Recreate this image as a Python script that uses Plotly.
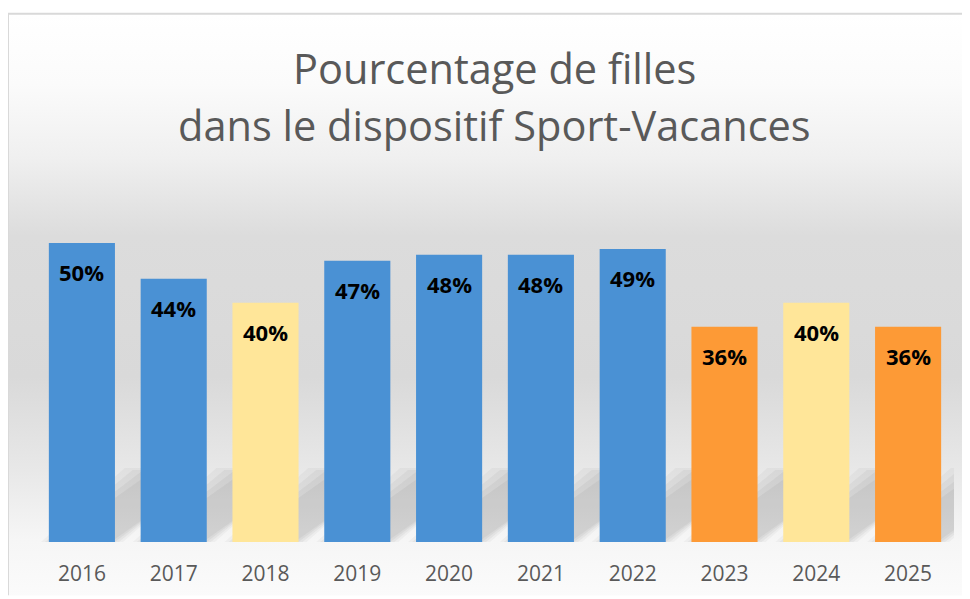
import base64
import plotly.graph_objects as go

# ---- data ----
years = ["2016", "2017", "2018", "2019", "2020", "2021", "2022", "2023", "2024", "2025"]
pct_girls = [50, 44, 40, 47, 48, 48, 49, 36, 40, 36]
bar_colors = ["#4a91d4", "#4a91d4", "#ffe699", "#4a91d4", "#4a91d4",
              "#4a91d4", "#4a91d4", "#fd9a36", "#ffe699", "#fd9a36"]
title_lines = ["Pourcentage de filles", "dans le dispositif Sport-Vacances"]

# page body adds an 8px margin, so the figure is 8px smaller than the window
W, H = 962, 591
ML, MR, MT, MB = 28, 16, 205, 54
YMAX = 55
pw, ph = W - ML - MR, H - MT - MB

# background (gradient + frame) as an SVG covering the whole figure
svg = f'''<svg xmlns="http://www.w3.org/2000/svg" width="{W}" height="{H}" viewBox="0 0 {W} {H}" preserveAspectRatio="none">
<defs><linearGradient id="g" x1="0" y1="0" x2="0" y2="1">
<stop offset="0" stop-color="#ffffff"/>
<stop offset="0.12" stop-color="#fbfbfb"/>
<stop offset="0.25" stop-color="#efefef"/>
<stop offset="0.38" stop-color="#dcdcdc"/>
<stop offset="0.62" stop-color="#d9d9d9"/>
<stop offset="0.78" stop-color="#e8e8e8"/>
<stop offset="0.9" stop-color="#f6f6f6"/>
<stop offset="1" stop-color="#fbfbfb"/>
</linearGradient></defs>
<rect x="0" y="0" width="{W}" height="{H}" fill="#ffffff"/>
<rect x="0" y="4" width="{W}" height="{H}" fill="url(#g)"/>
<line x1="0" y1="4" x2="{W}" y2="4" stroke="#d9d9d9" stroke-width="2"/>
<line x1="0" y1="4" x2="0" y2="{H}" stroke="#d9d9d9" stroke-width="2"/>
</svg>'''
svg_uri = "data:image/svg+xml;base64," + base64.b64encode(svg.encode()).decode()

fig = go.Figure()

fig.add_trace(go.Bar(x=list(range(len(years))), y=pct_girls, width=0.72,
                     marker=dict(color=bar_colors, line=dict(width=0)),
                     showlegend=False, hoverinfo="skip"))

# soft cast shadows behind each bar, derived from bar positions
half = 0.36
dx, dy = 1.0, 11.7
px_x = pw / len(years)
px_y = ph / YMAX
shapes = []
for i in range(len(years)):
    for e, op in [(8, 0.04), (4, 0.05), (0, 0.06), (-4, 0.06)]:
        ex = e / px_x
        ey = e / px_y
        L, R = i - half - ex, i + half + ex
        dxl = dx - ex
        dyl = dy + ey * 0.5
        path = (f"M {L},0 L {R},0 L {R + dxl},{dyl} "
                f"L {L + dxl},{dyl} Z")
        shapes.append(dict(type="path", path=path, xref="x", yref="y",
                           fillcolor=f"rgba(60,60,60,{op})", line=dict(width=0),
                           layer="below"))

annotations = []
for i, v in enumerate(pct_girls):
    annotations.append(dict(x=i, y=v, xref="x", yref="y", text=f"<b>{v}%</b>",
                            showarrow=False, yanchor="middle", yshift=-29,
                            font=dict(family="Open Sans", size=22, color="#000000")))

for k, line in enumerate(title_lines):
    py = [59, 116][k]
    annotations.append(dict(x=(486 - ML) / pw, y=(H - MB - py) / ph, xref="paper", yref="paper",
                            text=line, showarrow=False, xanchor="center", yanchor="middle",
                            font=dict(family="Open Sans", size=41.5, color="#595959")))

fig.update_layout(
    width=W, height=H,
    margin=dict(l=ML, r=MR, t=MT, b=MB, pad=0),
    paper_bgcolor="#ffffff", plot_bgcolor="rgba(0,0,0,0)",
    bargap=0.28,
    annotations=annotations,
    shapes=shapes,
    images=[dict(source=svg_uri, xref="paper", yref="paper",
                 x=-ML / pw, y=(H - MB) / ph, sizex=W / pw, sizey=H / ph,
                 xanchor="left", yanchor="top", sizing="stretch", layer="below")],
    xaxis=dict(range=[-0.5, len(years) - 0.5], tickvals=list(range(len(years))), ticktext=years,
               showgrid=False, zeroline=False, showline=False, ticks="",
               ticklabelstandoff=17,
               tickfont=dict(family="Open Sans", size=21, color="#595959"), fixedrange=True),
    yaxis=dict(range=[0, YMAX], visible=False, showgrid=False, zeroline=False, fixedrange=True),
)

fig.write_html("out.html")
